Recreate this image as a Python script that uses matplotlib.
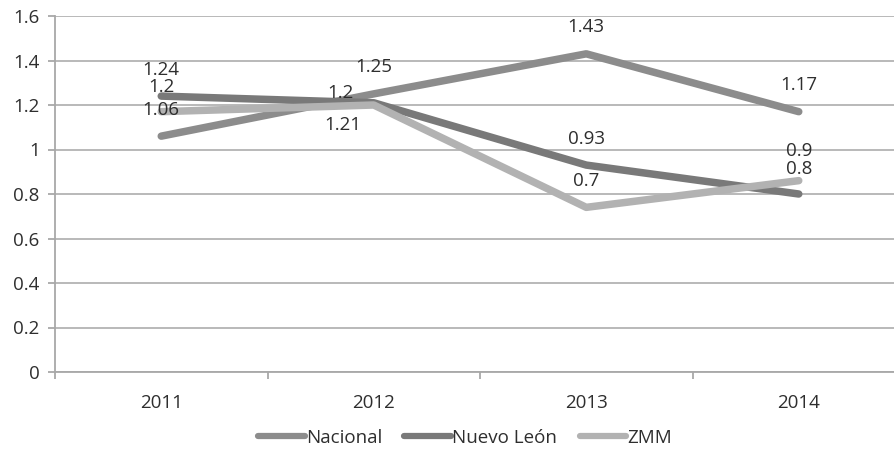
import matplotlib
matplotlib.use("Agg")
import matplotlib.pyplot as plt
from matplotlib.lines import Line2D

years = ["2011", "2012", "2013", "2014"]
nacional = [1.06, 1.25, 1.43, 1.17]
nuevo_leon = [1.24, 1.21, 0.93, 0.80]
zmm = [1.17, 1.20, 0.74, 0.86]
nacional_labels = ["1.06", "1.25", "1.43", "1.17"]
nuevo_leon_labels = ["1.24", "1.21", "0.93", "0.8"]
zmm_labels = ["1.2", "1.2", "0.7", "0.9"]
yticks = [0, 0.2, 0.4, 0.6, 0.8, 1.0, 1.2, 1.4, 1.6]
ytick_labels = ["0", "0.2", "0.4", "0.6", "0.8", "1", "1.2", "1.4", "1.6"]

plt.rcParams['font.family'] = ['Open Sans', 'DejaVu Sans']
FS = 13.5
TXT = "#2e2e2e"

fig = plt.figure(figsize=(8.94, 4.57), dpi=100)
ax = fig.add_axes([55/894, 85/457, 850/894, 356/457])

x = list(range(len(years)))
c_nac = "#8c8c8c"
c_nl = "#797979"
c_zmm = "#b2b2b2"
lw = 5.4
ax.plot(x, nacional, color=c_nac, lw=lw, solid_capstyle="round", solid_joinstyle="round", zorder=3)
ax.plot(x, nuevo_leon, color=c_nl, lw=lw, solid_capstyle="round", solid_joinstyle="round", zorder=3)
ax.plot(x, zmm, color=c_zmm, lw=lw, solid_capstyle="round", solid_joinstyle="round", zorder=4)

ax.set_xlim(-0.5, 3.5)
ax.set_ylim(0, 1.6)
ax.set_yticks(yticks)
ax.set_yticklabels(ytick_labels, fontsize=FS, color=TXT)
ax.set_xticks(x)
ax.set_xticklabels(years, fontsize=FS, color=TXT)
ax.set_xticks([-0.5, 0.5, 1.5, 2.5, 3.5], minor=True)
ax.tick_params(axis="x", which="major", length=0, pad=16)
ax.tick_params(axis="x", which="minor", length=5, width=1.3, color="#a8a8a8", direction="out")
ax.tick_params(axis="y", length=5, width=1.3, color="#a8a8a8", pad=6)
ax.grid(axis="y", color="#b3b3b3", lw=1.3, zorder=0)
ax.set_axisbelow(True)
for s in ["top", "right"]:
    ax.spines[s].set_visible(False)
ax.spines["left"].set_color("#a8a8a8")
ax.spines["left"].set_linewidth(1.3)
ax.spines["bottom"].set_color("#a8a8a8")
ax.spines["bottom"].set_linewidth(1.3)

def lab(xi, yi, s, dx, dy):
    ax.annotate(s, (xi, yi), xytext=(dx, dy), textcoords="offset points",
                ha="center", va="center", fontsize=FS, color=TXT, zorder=5)

for i in range(4):
    lab(x[i], nacional[i], nacional_labels[i], 0, 19)
lab(x[0], nuevo_leon[0], nuevo_leon_labels[0], 0, 19)
lab(x[1], nuevo_leon[1], nuevo_leon_labels[1], -22, -16)
lab(x[2], nuevo_leon[2], nuevo_leon_labels[2], 0, 19)
lab(x[3], nuevo_leon[3], nuevo_leon_labels[3], 0, 18)
lab(x[0], zmm[0], zmm_labels[0], 0, 18)
lab(x[1], zmm[1], zmm_labels[1], -24, 9)
lab(x[2], zmm[2], zmm_labels[2], 0, 19)
lab(x[3], zmm[3], zmm_labels[3], 0, 21)

handles = [Line2D([], [], color=c, lw=4.5, solid_capstyle="round") for c in (c_nac, c_nl, c_zmm)]
fig.legend(handles, ["Nacional", "Nuevo León", "ZMM"], loc="center", bbox_to_anchor=(465/894, 19/457),
           ncol=3, frameon=False, fontsize=FS, handlelength=2.5, handletextpad=0.05,
           columnspacing=1.2, labelcolor=TXT)

fig.savefig("out.png", dpi=100)
